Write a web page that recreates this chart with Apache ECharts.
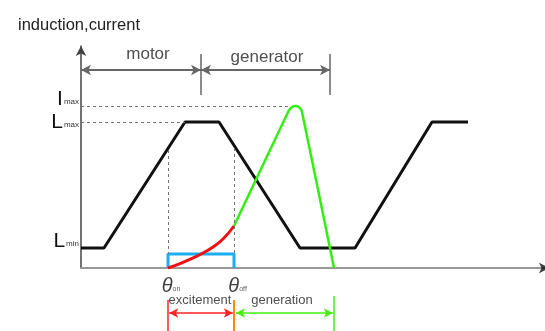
<!DOCTYPE html>
<html>
<head>
<meta charset="utf-8">
<script src="https://cdn.jsdelivr.net/npm/echarts@6/dist/echarts.min.js"></script>
<style>
  html, body { margin: 0; padding: 0; background: #fff; }
  #chart { width: 545px; height: 331px; }
</style>
</head>
<body>
<div id="chart"></div>
<script>
// Inductance profile (black trapezoid), rotor-angle units
const inductanceX = [0, 5.75, 26, 34.5, 54.75, 68.5, 87.75, 96.75];
const inductanceY = [10, 10, 73, 73, 10, 10, 73, 73];

// Phase current during excitation (red) and generation (green)
const excitationX = [21.75, 24.75, 28, 30.5, 33, 35.5, 38.25];
const excitationY = [0, 2.2, 5, 7.5, 10.5, 14.5, 21];
const generationX = [38.25, 51.9, 52.7, 53.6, 54.5, 55.2, 63.25];
const generationY = [21, 78.5, 80.4, 81, 80.4, 78.5, 0];

// Level ticks on the vertical axis
const levelValues = [10, 73, 81];
const levelLetters = ['L', 'L', 'I'];
const levelSubs = ['min', 'max', 'max'];
const levelRaised = [true, false, true];

// Switching angles and operating regions
const thetaOn = 21.75;
const thetaOff = 38.25;
const generationEnd = 63.25;
const motorEnd = 30;
const generatorEnd = 62.25;
const gateLevel = 7;
const regionNames = ['motor', 'generator'];
const intervalNames = ['excitement', 'generation'];

const zip = (xs, ys) => xs.map((x, i) => [x, ys[i]]);
const FONT = '"Liberation Sans", Arial, sans-serif';

const chart = echarts.init(document.getElementById('chart'), null, { renderer: 'canvas' });

const hline = (x1, x2, y) => [{ coord: [x1, y] }, { coord: [x2, y] }];
const vline = (x, y1, y2, style) => [{ coord: [x, y1], lineStyle: style }, { coord: [x, y2] }];

const textPoint = (x, y, text, size, rich) => ({
  value: [x, y],
  label: { show: true, position: 'inside', formatter: text, fontSize: size, color: '#222', fontFamily: FONT, rich: rich || {} }
});

const thetaRich = {
  t: { fontSize: 20, fontStyle: 'italic', color: '#111', fontFamily: FONT, verticalAlign: 'bottom', lineHeight: 20 },
  s: { fontSize: 7, color: '#333', fontFamily: FONT, verticalAlign: 'bottom', lineHeight: 8, padding: [0, 0, 3, 0] }
};

// Level labels: "L" / "I" with a small subscript
const levelLabel = (raised) => ({
  show: true,
  customValues: levelValues.filter((v, i) => levelRaised[i] === raised),
  showMinLabel: true,
  showMaxLabel: true,
  margin: 2,
  verticalAlign: raised ? 'bottom' : 'middle',
  formatter: (v) => {
    const i = levelValues.indexOf(v);
    if (i < 0) return '';
    return '{big|' + levelLetters[i] + '}{sub|' + levelSubs[i] + '}';
  },
  rich: {
    big: { fontSize: 21, color: '#111', fontFamily: FONT, lineHeight: raised ? 14 : 20 },
    sub: { fontSize: 8, color: '#333', fontFamily: FONT, lineHeight: 8, verticalAlign: 'bottom', padding: [0, 0, raised ? 0 : 3, 1] }
  }
});

chart.setOption({
  animation: false,
  title: {
    text: 'induction,current',
    left: 13, top: 12,
    textStyle: { fontSize: 16.5, fontWeight: 'normal', color: '#222', fontFamily: FONT }
  },
  grid: [
    { left: 81, right: 0, top: 46, bottom: 63 },
    { left: 81, right: 0, top: 268, bottom: 0 }
  ],
  xAxis: [
    {
      type: 'value', gridIndex: 0, min: 0, max: 116,
      axisLine: { show: true, onZero: false, lineStyle: { color: '#999', width: 2 } },
      axisTick: { show: false }, axisLabel: { show: false }, splitLine: { show: false }
    },
    { type: 'value', gridIndex: 1, min: 0, max: 116, show: false }
  ],
  yAxis: [
    {
      type: 'value', gridIndex: 0, min: 0, max: 111,
      axisLine: { show: true, onZero: false, symbol: ['none', 'arrow'], symbolSize: [8, 10],
        lineStyle: { color: '#444', width: 1.5 } },
      axisTick: { show: false },
      splitLine: { show: false },
      axisLabel: levelLabel(false)
    },
    { type: 'value', gridIndex: 1, min: -31.5, max: 0, show: false },
    {
      type: 'value', gridIndex: 0, min: 0, max: 111, position: 'left',
      axisLine: { show: false }, axisTick: { show: false }, splitLine: { show: false },
      axisLabel: levelLabel(true)
    }
  ],
  series: [
    // guide lines and region arrows in the main plot
    {
      type: 'line', xAxisIndex: 0, yAxisIndex: 0, data: [], silent: true,
      markLine: {
        silent: true, symbol: 'none', label: { show: false },
        lineStyle: { color: '#777', width: 1, type: [3, 3] },
        data: [
          hline(0, 52.5, levelValues[2]),
          hline(0, 26, levelValues[1]),
          vline(thetaOn, 59, gateLevel),
          vline(thetaOff, 60, gateLevel)
        ]
      }
    },
    {
      type: 'line', xAxisIndex: 0, yAxisIndex: 0, data: [], silent: true,
      markLine: {
        silent: true, symbol: ['arrow', 'arrow'], symbolSize: [8, 10], label: { show: false },
        lineStyle: { color: '#666', width: 2, type: 'solid' },
        data: [hline(0, motorEnd, 99), hline(motorEnd, generatorEnd, 99)]
      }
    },
    {
      type: 'line', xAxisIndex: 0, yAxisIndex: 0, data: [], silent: true,
      markLine: {
        silent: true, symbol: 'none', label: { show: false },
        lineStyle: { color: '#666', width: 1.5, type: 'solid' },
        data: [vline(motorEnd, 86.5, 107), vline(generatorEnd, 86.5, 107)]
      }
    },
    // arrow head of the angle axis
    {
      type: 'scatter', xAxisIndex: 0, yAxisIndex: 0, clip: false, silent: true,
      symbol: 'arrow', symbolSize: [8, 10], symbolRotate: -90,
      itemStyle: { color: '#111' },
      data: [[117, 0]]
    },
    // excitation gate window
    {
      type: 'line', xAxisIndex: 0, yAxisIndex: 0, symbol: 'none',
      lineStyle: { color: '#1aaef0', width: 3 },
      data: [[thetaOn, 0], [thetaOn, gateLevel], [thetaOff, gateLevel], [thetaOff, 0]]
    },
    // inductance
    {
      type: 'line', xAxisIndex: 0, yAxisIndex: 0, symbol: 'none',
      lineStyle: { color: '#111', width: 3 },
      data: zip(inductanceX, inductanceY)
    },
    // currents
    {
      type: 'line', xAxisIndex: 0, yAxisIndex: 0, symbol: 'none', smooth: 0.5,
      lineStyle: { color: '#ee1111', width: 3 },
      data: zip(excitationX, excitationY)
    },
    {
      type: 'line', xAxisIndex: 0, yAxisIndex: 0, symbol: 'none', smooth: 0.15,
      lineStyle: { color: '#33ee11', width: 2.5 },
      data: zip(generationX, generationY)
    },
    // region captions
    {
      type: 'scatter', xAxisIndex: 0, yAxisIndex: 0, symbolSize: 1,
      itemStyle: { color: 'rgba(0,0,0,0)' }, silent: true,
      data: [
        textPoint(16.75, 107, regionNames[0], 17),
        textPoint(46.5, 105.5, regionNames[1], 17)
      ]
    },
    // interval annotations below the axis
    {
      type: 'line', xAxisIndex: 1, yAxisIndex: 1, data: [], silent: true,
      markLine: {
        silent: true, symbol: 'none', label: { show: false },
        data: [
          vline(thetaOn, -16, -31.5, { color: '#ff2222', width: 1.5, type: 'solid' }),
          vline(thetaOff, -16, -31.5, { color: '#ff8800', width: 2, type: 'solid' }),
          vline(generationEnd, -14, -31.5, { color: '#44ee11', width: 1.5, type: 'solid' })
        ]
      }
    },
    {
      type: 'line', xAxisIndex: 1, yAxisIndex: 1, data: [], silent: true,
      markLine: {
        silent: true, symbol: ['arrow', 'arrow'], symbolSize: [7, 9], label: { show: false },
        data: [
          [{ coord: [thetaOn + 0.3, -22.5], lineStyle: { color: '#ff2222', width: 1.5, type: 'solid' } }, { coord: [thetaOff - 0.3, -22.5] }],
          [{ coord: [thetaOff + 0.5, -22.5], lineStyle: { color: '#44ee11', width: 1.5, type: 'solid' } }, { coord: [generationEnd - 0.3, -22.5] }]
        ]
      }
    },
    {
      type: 'scatter', xAxisIndex: 1, yAxisIndex: 1, symbolSize: 1,
      itemStyle: { color: 'rgba(0,0,0,0)' }, silent: true,
      data: [
        textPoint(thetaOn + 0.75, -9, '{t|θ}{s|on}', 16, thetaRich),
        textPoint(thetaOff + 0.9, -9, '{t|θ}{s|off}', 16, thetaRich),
        textPoint(29.75, -16, intervalNames[0], 13),
        textPoint(50.25, -16, intervalNames[1], 13)
      ]
    }
  ]
});
</script>
</body>
</html>
